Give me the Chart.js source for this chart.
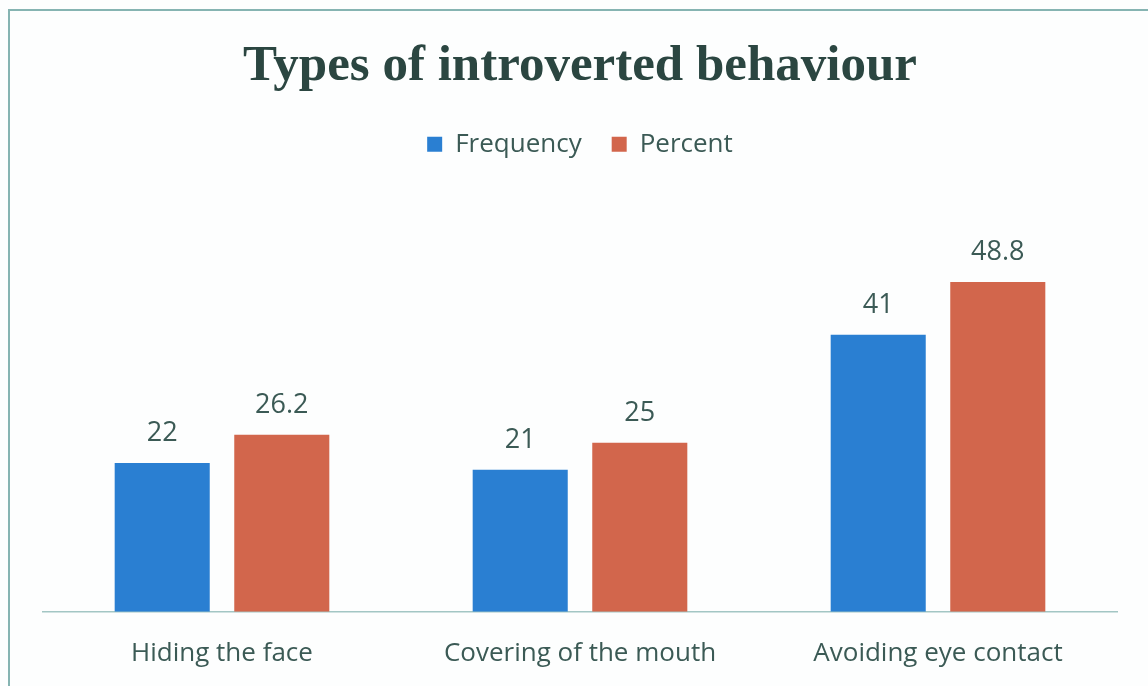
<!DOCTYPE html>
<html>
<head>
<meta charset="utf-8">
<script src="https://cdn.jsdelivr.net/npm/chart.js@4/dist/chart.umd.min.js"></script>
<style>
  html, body { margin: 0; padding: 0; background: #fff; }
  #wrap { position: relative; width: 1148px; height: 686px; overflow: hidden; background: #fdfefe; }
  #frame { position: absolute; left: 8px; top: 9px; width: 1200px; height: 800px;
           border-left: 2px solid #86b4b2; border-top: 2px solid #86b4b2; box-sizing: border-box; }
  canvas { position: absolute; left: 0; top: 0; }
</style>
</head>
<body>
<div id="wrap">
  <div id="frame"></div>
  <canvas id="c" width="1148" height="686"></canvas>
</div>
<script>
const categories = ["Hiding the face", "Covering of the mouth", "Avoiding eye contact"];
const frequency = [22, 21, 41];
const percent = [26.2, 25, 48.8];
const yMax = 60;

const textColor = '#3b5a55';

const valueLabels = {
  id: 'valueLabels',
  afterDatasetsDraw(chart) {
    const ctx = chart.ctx;
    ctx.save();
    ctx.font = '27px "Open Sans"';
    ctx.fillStyle = textColor;
    ctx.textAlign = 'center';
    ctx.textBaseline = 'bottom';
    chart.data.datasets.forEach((ds, i) => {
      chart.getDatasetMeta(i).data.forEach((bar, j) => {
        ctx.fillText(String(ds.data[j]), bar.x, bar.y - 16);
      });
    });
    ctx.restore();
  }
};

const legendGap = {
  id: 'legendGap',
  beforeInit(chart) {
    const fit = chart.legend.fit;
    chart.legend.fit = function () {
      fit.call(this);
      this.height += 39;
    };
  }
};

new Chart(document.getElementById('c'), {
  type: 'bar',
  data: {
    labels: categories,
    datasets: [
      { label: 'Frequency', data: frequency, backgroundColor: '#2a7fd2' },
      { label: 'Percent', data: percent, backgroundColor: '#d2664c' }
    ]
  },
  options: {
    responsive: false,
    animation: false,
    layout: { padding: { left: 43, right: 31, top: 0, bottom: -9 } },
    datasets: { bar: { categoryPercentage: 0.668, barPercentage: 0.795 } },
    plugins: {
      title: {
        display: true,
        text: 'Types of introverted behaviour',
        color: '#2b4641',
        font: { family: 'Liberation Serif', size: 51, weight: 'bold' },
        padding: { top: 36, bottom: 4 }
      },
      legend: {
        display: true,
        labels: {
          color: textColor,
          font: { family: 'Open Sans', size: 26 },
          boxWidth: 15, boxHeight: 15,
          padding: 30
        }
      },
      tooltip: { enabled: false }
    },
    scales: {
      x: {
        grid: { display: false, drawTicks: false },
        border: { display: true, color: '#a3c6c4', width: 1.5 },
        ticks: { color: textColor, font: { family: 'Open Sans', size: 26 }, padding: 26 }
      },
      y: { display: false, min: 0, max: yMax }
    }
  },
  plugins: [valueLabels, legendGap]
});
</script>
</body>
</html>
